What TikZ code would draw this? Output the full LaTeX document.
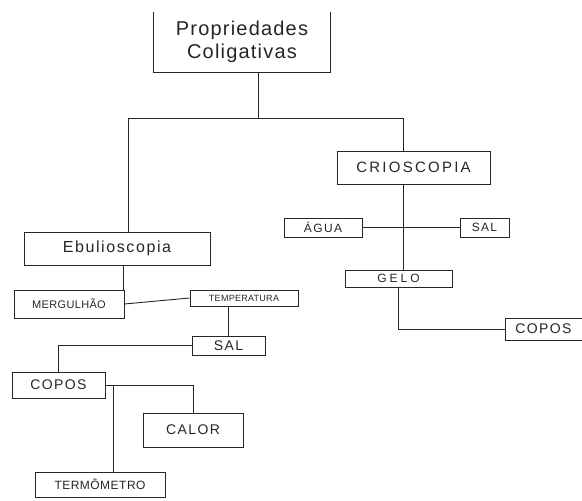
\documentclass[tikz,border=0pt]{standalone}
\usepackage{fontspec}
\setmainfont{Liberation Sans}
\begin{document}
\begin{tikzpicture}[x=1pt,y=-1pt,
  line width=0.9pt, draw=black!85,
  box/.style={draw, inner sep=0pt, text=black!85},
  lbl/.style={text=black!85, inner sep=0pt}]
\useasboundingbox (0,0) rectangle (582,501);
% title (open-top box)
\node[lbl, minimum width=176pt, minimum height=60pt, align=center, font=\fontsize{20}{23}\selectfont\addfontfeature{LetterSpace=6}] (prop) at (242,42) {Propriedades\\Coligativas};
\draw (prop.north west) -- (prop.south west) -- (prop.south east) -- (prop.north east);
% nodes
\node[box, minimum width=153pt, minimum height=33pt, font=\fontsize{15}{18}\selectfont\addfontfeature{LetterSpace=15}] (crio) at (413.5,167.5) {CRIOSCOPIA};
\node[box, minimum width=78pt, minimum height=19pt, font=\fontsize{12}{14}\selectfont\addfontfeature{LetterSpace=12}] (agua) at (323,227.5) {ÁGUA};
\node[box, minimum width=49pt, minimum height=19pt, font=\fontsize{12}{14}\selectfont\addfontfeature{LetterSpace=10}] (salr) at (484.5,227.5) {SAL};
\node[box, minimum width=107pt, minimum height=17pt, font=\fontsize{12}{14}\selectfont\addfontfeature{LetterSpace=25}] (gelo) at (398.5,278.5) {GELO};
\node[box, minimum width=77pt, minimum height=22pt, font=\fontsize{14}{16}\selectfont\addfontfeature{LetterSpace=10}] (coposr) at (543.5,329) {COPOS};
\node[box, minimum width=186pt, minimum height=33pt, font=\fontsize{16}{19}\selectfont\addfontfeature{LetterSpace=10}] (ebu) at (117,248.5) {Ebulioscopia};
\node[box, minimum width=110pt, minimum height=28pt, font=\fontsize{11}{13}\selectfont\addfontfeature{LetterSpace=3}] (merg) at (69,304) {MERGULHÃO};
\node[box, minimum width=108pt, minimum height=16pt, font=\fontsize{9}{11}\selectfont\addfontfeature{LetterSpace=3}] (temp) at (244,298) {TEMPERATURA};
\node[box, minimum width=73pt, minimum height=19pt, font=\fontsize{14}{16}\selectfont\addfontfeature{LetterSpace=10}] (sall) at (228.5,345.5) {SAL};
\node[box, minimum width=93pt, minimum height=26pt, font=\fontsize{14}{16}\selectfont\addfontfeature{LetterSpace=10}] (coposl) at (58.5,385) {COPOS};
\node[box, minimum width=100pt, minimum height=34pt, font=\fontsize{14}{16}\selectfont\addfontfeature{LetterSpace=10}] (calor) at (193,430) {CALOR};
\node[box, minimum width=130pt, minimum height=25pt, font=\fontsize{12}{14}\selectfont\addfontfeature{LetterSpace=4}] (term) at (100,484.5) {TERMÔMETRO};
% junctions
\coordinate (t) at (258,118);
\coordinate (hl) at (128,118);
\coordinate (hr) at (403,118);
\coordinate (cj) at (113,385);
\coordinate (ej) at (123,265);
% connectors
\draw (prop.south -| t) -- (t);
\draw (ebu.north -| hl) -- (hl) -- (hr) -- (crio.north -| hr);
\draw (crio.south -| hr) -- (gelo.north -| hr);
\draw (agua.east) -- (salr.west);
\draw (gelo.south) |- (coposr.west);
\draw (ej) -- (ej |- merg.north);
\draw (merg.east) -- (temp.west);
\draw (temp.south -| sall.north) -- (sall.north);
\draw (sall.west) -| (coposl.north);
\draw (coposl.east) -| (calor.north);
\draw (cj) -- (cj |- term.north);
\end{tikzpicture}
\end{document}
